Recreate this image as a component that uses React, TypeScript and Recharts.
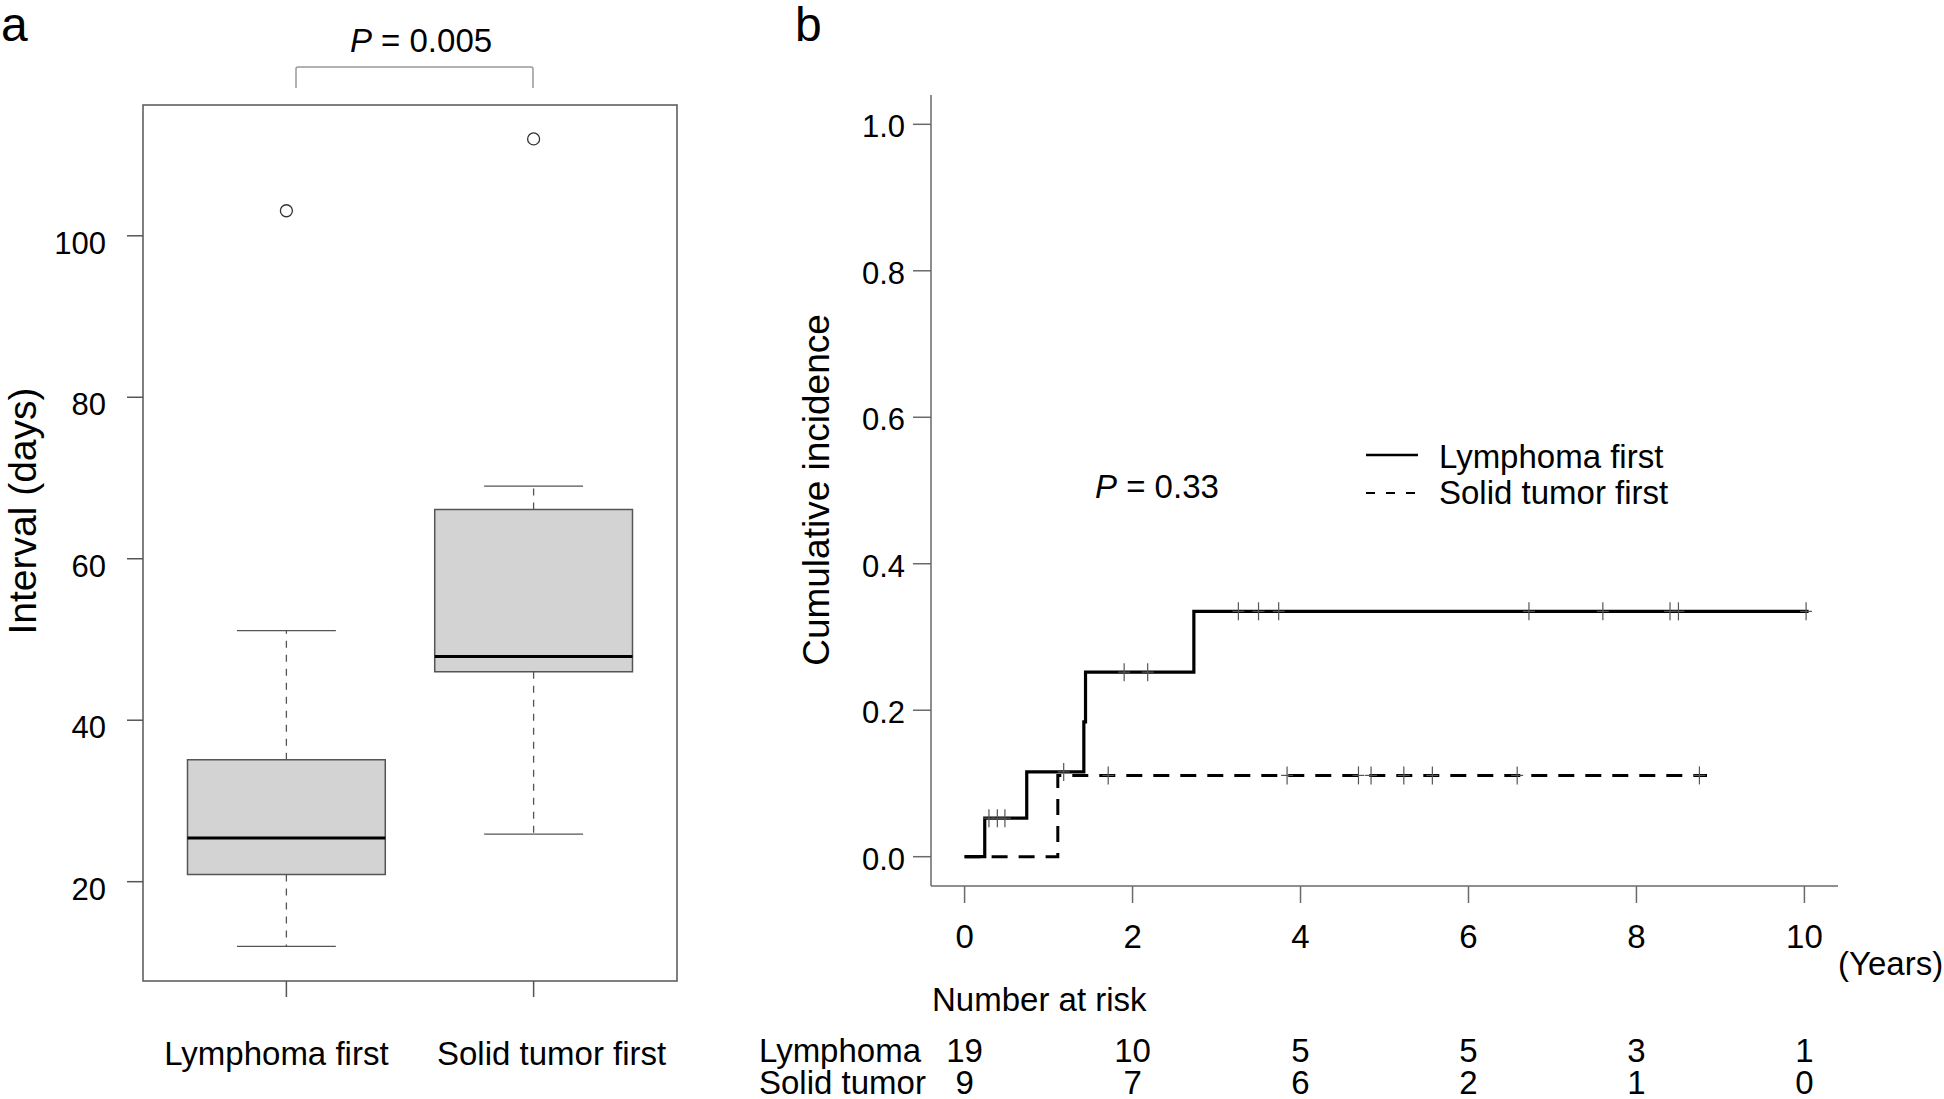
import { ComposedChart, XAxis, YAxis, ReferenceArea, ReferenceLine, Scatter, Line } from 'recharts'

const FONT = "'Liberation Sans', Arial, Helvetica, sans-serif"
const AX_A = '#555'
const AX_B = '#6a6a6a'

// panel a: interval (days), box plot statistics per group
const groups = ['Lymphoma first', 'Solid tumor first']
const groupPos = [1, 2]
const whiskerLow = [12.0, 25.9]
const q1 = [20.9, 46.0]
const median = [25.4, 47.9]
const q3 = [35.1, 66.1]
const whiskerHigh = [51.1, 69.0]
const outlierGroup = [1, 2]
const outlierValue = [103.1, 112.0]
const intervalTicks = [20, 40, 60, 80, 100]

// panel b: cumulative incidence step curves (years)
const lymphStepTime = [0, 0.24, 0.74, 1.42, 1.44, 2.73, 10.05]
const lymphStepInc = [0, 0.0526, 0.1158, 0.184, 0.252, 0.335, 0.335]
const lymphCensorTime = [0.29, 0.39, 0.48, 1.18, 1.9, 2.18, 3.26, 3.5, 3.74, 6.72, 7.6, 8.4, 8.5, 10.02]
const solidStepTime = [0, 1.11, 8.84]
const solidStepInc = [0, 0.111, 0.111]
const solidCensorTime = [1.71, 3.84, 4.69, 4.84, 5.23, 5.57, 6.58, 8.75]
const yearTicks = [0, 2, 4, 6, 8, 10]
const incTicks = [0, 0.2, 0.4, 0.6, 0.8, 1.0]
const riskLymphoma = [19, 10, 5, 5, 3, 1]
const riskSolid = [9, 7, 6, 2, 1, 0]

function valueAt(times: number[], incs: number[], t: number) {
  let v = incs[0]
  times.forEach((tm, i) => {
    if (tm <= t) v = incs[i]
  })
  return v
}

const lymphSteps = lymphStepTime.map((t, i) => ({ t, v: lymphStepInc[i] }))
const solidSteps = solidStepTime.map((t, i) => ({ t, v: solidStepInc[i] }))
const lymphCensor = lymphCensorTime.map(t => ({ t, v: valueAt(lymphStepTime, lymphStepInc, t) }))
const solidCensor = solidCensorTime.map(t => ({ t, v: valueAt(solidStepTime, solidStepInc, t) }))

function CensorMark(props: any) {
  const { cx, cy } = props
  if (cx == null || cy == null) return null
  return (
    <g>
      <line x1={cx} x2={cx} y1={cy - 9} y2={cy + 9} stroke="#555" strokeWidth={1.2} />
      <line x1={cx - 6} x2={cx + 6} y1={cy} y2={cy} stroke="#555" strokeWidth={1.2} />
    </g>
  )
}

function OpenCircle(props: any) {
  const { cx, cy } = props
  if (cx == null || cy == null) return null
  return <circle cx={cx} cy={cy} r={6} fill="none" stroke="#333" strokeWidth={1.3} />
}

// group labels sit a little off their tick marks in the original
const labelShift = [-10, 18]

function GroupTick(props: any) {
  const { x, y, payload } = props
  const i = groupPos.indexOf(payload.value)
  return (
    <text x={x + (labelShift[i] ?? 0)} y={y} dy="0.71em" textAnchor="middle" fontSize={33} fill="#000">
      {groups[i]}
    </text>
  )
}

function PanelA() {
  const outliers = outlierGroup.map((g, i) => ({ x: g, y: outlierValue[i] }))
  const half = 0.4
  const cap = 0.2
  const boxes = groupPos.map((g, i) => (
    <ReferenceArea key={'box' + i} x1={g - half} x2={g + half} y1={q1[i]} y2={q3[i]}
      fill="#d3d3d3" fillOpacity={1} stroke={AX_A} strokeWidth={1.5} ifOverflow="visible" />
  ))
  const lines = groupPos.flatMap((g, i) => [
    <ReferenceLine key={'wu' + i} segment={[{ x: g, y: q3[i] }, { x: g, y: whiskerHigh[i] }]}
      stroke={AX_A} strokeWidth={1.3} strokeDasharray="7 7" ifOverflow="visible" />,
    <ReferenceLine key={'wl' + i} segment={[{ x: g, y: q1[i] }, { x: g, y: whiskerLow[i] }]}
      stroke={AX_A} strokeWidth={1.3} strokeDasharray="7 7" ifOverflow="visible" />,
    <ReferenceLine key={'cu' + i} segment={[{ x: g - cap, y: whiskerHigh[i] }, { x: g + cap, y: whiskerHigh[i] }]}
      stroke={AX_A} strokeWidth={1.3} ifOverflow="visible" />,
    <ReferenceLine key={'cl' + i} segment={[{ x: g - cap, y: whiskerLow[i] }, { x: g + cap, y: whiskerLow[i] }]}
      stroke={AX_A} strokeWidth={1.3} ifOverflow="visible" />,
    <ReferenceLine key={'md' + i} segment={[{ x: g - half, y: median[i] }, { x: g + half, y: median[i] }]}
      stroke="#000" strokeWidth={3} ifOverflow="visible" />,
  ])

  return (
    <ComposedChart width={740} height={1099} margin={{ top: 105, right: 63, bottom: 0, left: 0 }}>
      <XAxis type="number" dataKey="x" domain={[0.42, 2.58]} allowDataOverflow ticks={groupPos} interval={0}
        height={118} axisLine={false} tickLine={{ stroke: AX_A, strokeWidth: 1.5 }}
        tickSize={16} tickMargin={45} tick={<GroupTick />} />
      <YAxis type="number" dataKey="y" domain={[7.7, 116.2]} allowDataOverflow ticks={intervalTicks} interval={0}
        width={143} axisLine={false} tickLine={{ stroke: AX_A, strokeWidth: 1.5 }}
        tickSize={16} tickMargin={21} tick={{ fontSize: 31, fill: '#000', dy: 7 }} />
      <ReferenceArea x1={0.42} x2={2.58} y1={7.7} y2={116.2} fill="none" stroke={AX_A} strokeWidth={1.5} ifOverflow="visible" />
      {boxes}
      {lines}
      <Scatter data={outliers} shape={<OpenCircle />} isAnimationActive={false} />
    </ComposedChart>
  )
}

function PanelB() {
  const riskTick = { fontSize: 33, fill: '#000' }
  return (
    <ComposedChart width={1204} height={1099} margin={{ top: 95, right: 106, bottom: 0, left: 0 }}>
      <XAxis xAxisId="a_yr" type="number" dataKey="t" domain={[-0.4, 10.4]} allowDataOverflow ticks={yearTicks} interval={0}
        height={153} axisLine={{ stroke: AX_B, strokeWidth: 1.5 }} tickLine={{ stroke: AX_B, strokeWidth: 1.5 }}
        tickSize={17} tickMargin={22} tick={{ fontSize: 33, fill: '#000' }} />
      <XAxis xAxisId="b_r1" type="number" dataKey="t" domain={[-0.4, 10.4]} allowDataOverflow ticks={yearTicks} interval={0}
        tickFormatter={(v: number) => String(riskLymphoma[yearTicks.indexOf(v)])}
        height={32} axisLine={false} tickLine={false} tickSize={0} tickMargin={0} tick={riskTick} />
      <XAxis xAxisId="c_r2" type="number" dataKey="t" domain={[-0.4, 10.4]} allowDataOverflow ticks={yearTicks} interval={0}
        tickFormatter={(v: number) => String(riskSolid[yearTicks.indexOf(v)])}
        height={28} axisLine={false} tickLine={false} tickSize={0} tickMargin={0} tick={riskTick} />
      <YAxis yAxisId="inc" type="number" dataKey="v" domain={[-0.04, 1.04]} allowDataOverflow ticks={incTicks} interval={0}
        tickFormatter={(v: number) => v.toFixed(1)}
        width={191} axisLine={{ stroke: AX_B, strokeWidth: 1.5 }} tickLine={{ stroke: AX_B, strokeWidth: 1.5 }}
        tickSize={18} tickMargin={8} tick={{ fontSize: 31, fill: '#000', dy: 2 }} />
      <Line xAxisId="a_yr" yAxisId="inc" data={solidSteps} dataKey="v" type="stepAfter" stroke="#000"
        strokeWidth={3} strokeDasharray="16 11" dot={false} activeDot={false} isAnimationActive={false} />
      <Line xAxisId="a_yr" yAxisId="inc" data={lymphSteps} dataKey="v" type="stepAfter" stroke="#000"
        strokeWidth={3.2} dot={false} activeDot={false} isAnimationActive={false} />
      <Scatter xAxisId="a_yr" yAxisId="inc" data={lymphCensor} shape={<CensorMark />} isAnimationActive={false} />
      <Scatter xAxisId="a_yr" yAxisId="inc" data={solidCensor} shape={<CensorMark />} isAnimationActive={false} />
    </ComposedChart>
  )
}

export default function App() {
  return (
    <div style={{ position: 'absolute', left: 0, top: 0, width: 1944, height: 1099, background: '#fff', fontFamily: FONT, overflow: 'hidden' }}>
      <div style={{ position: 'absolute', left: 0, top: 0 }}>
        <PanelA />
      </div>
      <div style={{ position: 'absolute', left: 740, top: 0 }}>
        <PanelB />
      </div>
      <svg width={1944} height={1099} style={{ position: 'absolute', left: 0, top: 0, pointerEvents: 'none' }}
        fontFamily={FONT} fill="#000">
        <text x={1} y={41} fontSize={48}>a</text>
        <text x={795} y={41} fontSize={48}>b</text>

        <text x={421} y={52} fontSize={33} textAnchor="middle">
          <tspan fontStyle="italic">P</tspan> = 0.005
        </text>
        <path d="M296 88 V69 Q296 67 298 67 H531 Q533 67 533 69 V88" fill="none" stroke="#999" strokeWidth={1.5} />

        <text transform="translate(36 511) rotate(-90)" fontSize={39} textAnchor="middle">Interval (days)</text>
        <text transform="translate(829 490) rotate(-90)" fontSize={37} textAnchor="middle">Cumulative incidence</text>

        <text x={1095} y={498} fontSize={33}>
          <tspan fontStyle="italic">P</tspan> = 0.33
        </text>
        <line x1={1366} x2={1418} y1={455} y2={455} stroke="#000" strokeWidth={2.6} />
        <text x={1439} y={468} fontSize={33}>Lymphoma first</text>
        <line x1={1366} x2={1418} y1={493} y2={493} stroke="#000" strokeWidth={2} strokeDasharray="9 11" />
        <text x={1439} y={504} fontSize={33}>Solid tumor first</text>

        <text x={1838} y={975} fontSize={33}>(Years)</text>
        <text x={932} y={1011} fontSize={33}>Number at risk</text>
        <text x={759} y={1062} fontSize={33}>Lymphoma</text>
        <text x={759} y={1094} fontSize={33}>Solid tumor</text>
      </svg>
    </div>
  )
}
